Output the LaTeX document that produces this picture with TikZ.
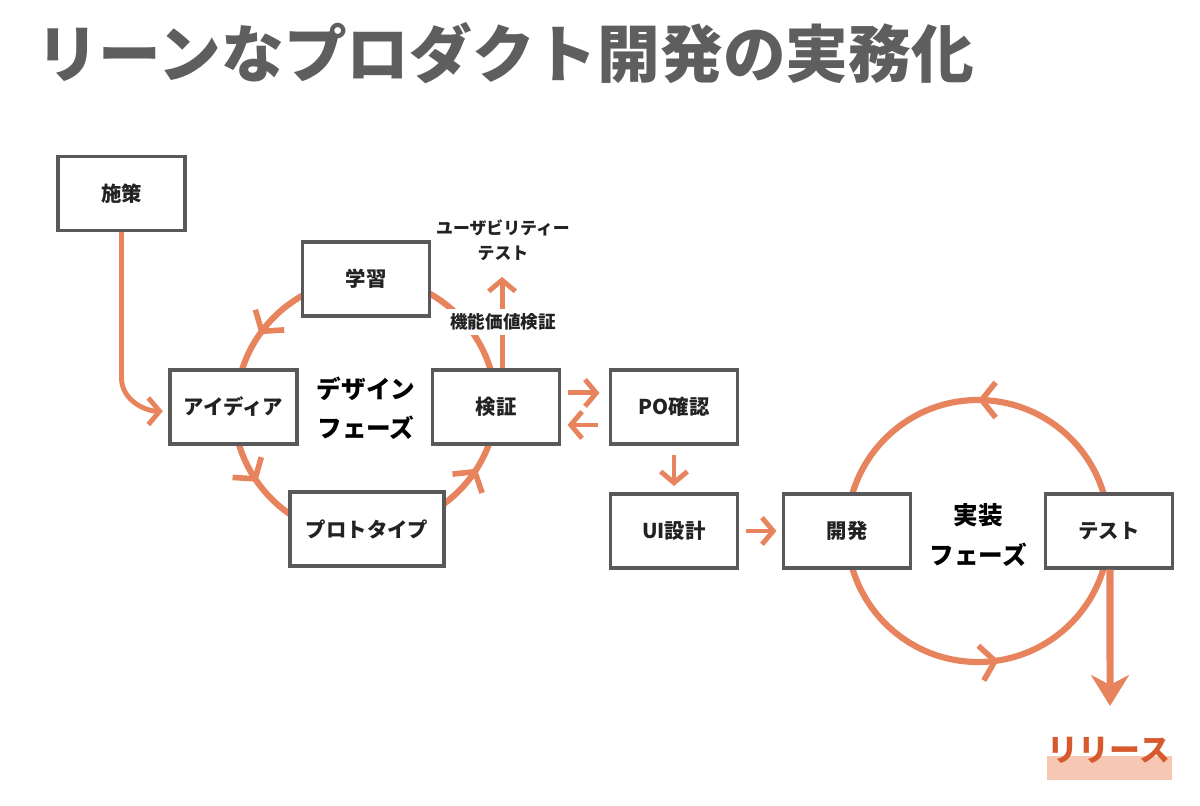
\documentclass[tikz,border=0pt]{standalone}
\usepackage{fontspec}
\setmainfont{Noto Sans CJK JP}
\usetikzlibrary{arrows.meta,decorations.markings,backgrounds}
\definecolor{arr}{HTML}{E8845D}
\definecolor{boxgray}{HTML}{595959}
\definecolor{titlegray}{HTML}{5E5E5E}
\definecolor{rel}{HTML}{D65A2E}
\definecolor{relbg}{HTML}{F6C7B3}
\definecolor{ink}{HTML}{222222}
\begin{document}
\begin{tikzpicture}[x=0.025cm,y=0.025cm,
  box/.style={draw=boxgray,line width=2.2pt,fill=white,minimum width=3.175cm,minimum height=1.85cm,inner sep=0pt,font=\fontsize{14.5}{16}\selectfont\bfseries,text=ink},
  flow/.style={draw=arr,line width=3.5pt,-{Straight Barb[length=8pt,width=19pt]}},
  cyc/.style={draw=arr,line width=4.4pt},
  mk/.style={postaction={decorate},decoration={markings,mark=at position #1 with {\arrow[color=arr,line width=4pt]{Straight Barb[length=10pt,width=25pt]}}}},
  phase/.style={font=\fontsize{17.5}{28}\selectfont\bfseries,align=center,text=black},
  lbl/.style={font=\fontsize{12}{18}\selectfont\bfseries,align=center,text=ink},
]
\useasboundingbox (0,0) rectangle (1200,-806);

% title
\node[anchor=west,inner sep=0pt,text=titlegray,font=\fontsize{44.6}{50}\selectfont\bfseries] (title) at (36,-53) {リーンなプロダクト開発の実務化};

% boxes
\node[box] (shisaku) at (121.5,-193.5) {施策};
\node[box] (gakushu) at (366,-279) {学習};
\node[box] (idea) at (233.5,-407) {アイディア};
\node[box] (kensho) at (496,-407) {検証};
\node[box,minimum width=3.85cm] (proto) at (367,-529) {プロトタイプ};
\node[box] (po) at (674,-407) {PO確認};
\node[box] (ui) at (674,-531) {UI設計};
\node[box] (kaihatsu) at (847,-531) {開発};
\node[box] (test) at (1109,-531) {テスト};

% phase labels
\node[phase] (design) at (366,-408) {デザイン\\フェーズ};
\node[phase] (impl) at (978,-535) {実装\\フェーズ};

% usability test
\node[lbl] (usab) at (503,-240) {ユーザビリティー\\テスト};
\coordinate (kv) at ([xshift=4.3pt]kensho.north);
\draw[flow,shorten >=8pt] (kv) -- (kv |- usab.south);
\node[lbl,fill=white,inner sep=3pt,font=\fontsize{12.5}{15}\selectfont\bfseries] (kinou) at (503,-322) {機能価値検証};

% cycles
\begin{scope}[on background layer]
  \draw[cyc,mk=0.61] (gakushu.center) arc[start angle=90,end angle=180,radius=130];
  \draw[cyc,mk=0.39] (idea.center) arc[start angle=180,end angle=270,radius=130];
  \draw[cyc,mk=0.64] (proto.center) arc[start angle=270,end angle=360,radius=130];
  \draw[cyc] (kensho.center) arc[start angle=0,end angle=90,radius=130];
  \draw[cyc,mk=0.5] (test.center) arc[start angle=0,end angle=180,radius=131];
  \draw[cyc,mk=0.55] (kaihatsu.center) arc[start angle=180,end angle=360,radius=131];
\end{scope}

% flows
\coordinate (bend) at (121.5,-378);
\draw[flow,shorten >=4pt] (shisaku.south) -- (bend) to[out=-90,in=180] ([yshift=-3pt]idea.west);
\draw[flow,shorten <=4.6pt,shorten >=6.7pt] ([yshift=10pt]kensho.east) -- ([yshift=10pt]po.west);
\draw[flow,shorten <=7.5pt,shorten >=4.6pt] ([yshift=-12.8pt]po.west) -- ([yshift=-12.8pt]kensho.east);
\draw[flow,shorten <=7pt,shorten >=4.6pt] (po.south) -- (ui.north);
\draw[flow,shorten <=4.6pt,shorten >=3.9pt] (ui.east) -- (kaihatsu.west);

% release
\node[fill=relbg,minimum width=3.125cm,minimum height=0.6cm,inner sep=0pt] (hl) at (1109.5,-768) {};
\node[text=rel,inner sep=0pt,font=\fontsize{22}{24}\selectfont\bfseries] (release) at (1109,-750) {リリース};
\coordinate (reltip) at (1110,-706);
\draw[draw=arr,line width=5pt,-{Stealth[length=22pt,width=27pt,inset=7pt]}] ([xshift=0.7pt]test.south) -- (reltip);
\end{tikzpicture}
\end{document}
